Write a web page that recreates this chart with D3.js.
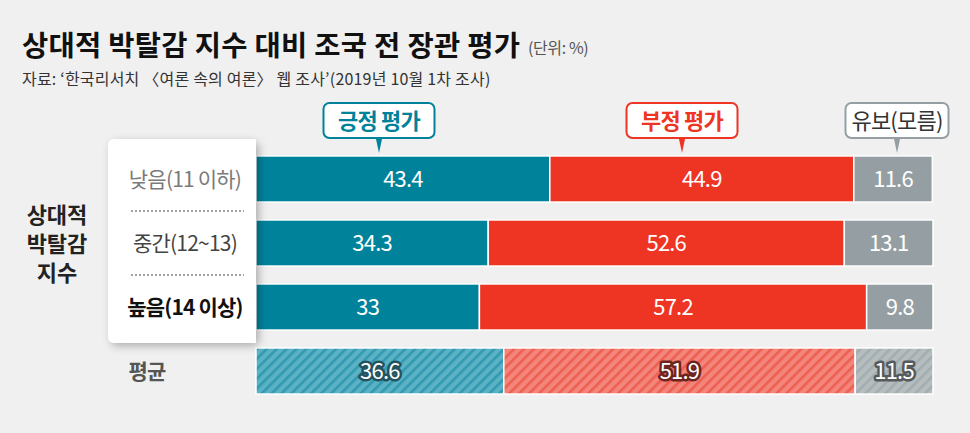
<!DOCTYPE html>
<html>
<head>
<meta charset="utf-8">
<script src="https://cdn.jsdelivr.net/npm/d3@7"></script>
<style>
  html, body { margin: 0; padding: 0; background: #f0f0f0; }
  svg { display: block; font-family: "Noto Sans CJK KR", "Noto Sans", sans-serif; }
</style>
</head>
<body>
<svg id="chart" width="970" height="433"></svg>
<script>
// data
var rowNames = ["낮음(11 이하)", "중간(12~13)", "높음(14 이상)", "평균"];
var seriesNames = ["긍정 평가", "부정 평가", "유보(모름)"];
var positive = [43.4, 34.3, 33, 36.6];
var negative = [44.9, 52.6, 57.2, 51.9];
var undecided = [11.6, 13.1, 9.8, 11.5];

var colors = ["#00829b", "#ee3524", "#959fa3"];
var hatchBg = ["#5cb2c5", "#f4857b", "#b5bdbf"];
var hatchFg = ["#3199b0", "#ec5f51", "#a3acae"];
var outline = ["#23535e", "#6e2520", "#555a5c"];

var svg = d3.select("#chart");

var x = d3.scaleLinear().domain([0, 100]).range([256, 933]);
var y = d3.scaleBand().domain(rowNames).range([147, 403])
    .paddingInner(0.28).paddingOuter(0.14);

// stripe patterns for the average row
var defs = svg.append("defs");
for (var k = 0; k < 3; k++) {
    var pat = defs.append("pattern")
        .attr("id", "hatch" + k)
        .attr("width", 7).attr("height", 7)
        .attr("patternUnits", "userSpaceOnUse")
        .attr("patternTransform", "rotate(45)");
    pat.append("rect").attr("width", 7).attr("height", 7).attr("fill", hatchBg[k]);
    pat.append("rect").attr("width", 2.6).attr("height", 7).attr("fill", hatchFg[k]);
}
var shadow = defs.append("filter").attr("id", "shadow")
    .attr("x", "-20%").attr("y", "-20%").attr("width", "140%").attr("height", "140%");
shadow.append("feDropShadow").attr("dx", 3).attr("dy", 3)
    .attr("stdDeviation", 4).attr("flood-color", "#000").attr("flood-opacity", 0.28);

// title
svg.append("text").attr("x", 22).attr("y", 56)
    .attr("font-size", 28.5).attr("font-weight", "bold").attr("fill", "#111")
    .attr("letter-spacing", 0.3)
    .text("상대적 박탈감 지수 대비 조국 전 장관 평가");
svg.append("text").attr("x", 528).attr("y", 54)
    .attr("font-size", 16).attr("fill", "#555").attr("letter-spacing", -0.4)
    .text("(단위: %)");
svg.append("text").attr("x", 22).attr("y", 85)
    .attr("font-size", 16).attr("fill", "#333").attr("letter-spacing", 0.2)
    .text("자료: ‘한국리서치 〈여론 속의 여론〉 웹 조사’(2019년 10월 1차 조사)");

// stacked bars
var rows = rowNames.map(function (name, i) {
    var vals = [positive[i], negative[i], undecided[i]];
    var acc = 0;
    return vals.map(function (v, j) {
        var seg = {row: name, idx: i, s: j, v: v, x0: acc, x1: acc + v};
        acc += v;
        return seg;
    });
});
var segs = [].concat.apply([], rows);

var bars = svg.append("g").selectAll("g").data(segs).enter().append("g");
bars.append("rect")
    .attr("x", function (d) { return x(d.x0); })
    .attr("y", function (d) { return y(d.row); })
    .attr("width", function (d) { return x(d.x1) - x(d.x0); })
    .attr("height", y.bandwidth())
    .attr("fill", function (d) { return d.idx === 3 ? "url(#hatch" + d.s + ")" : colors[d.s]; })
    .attr("stroke", "#fff").attr("stroke-width", 1.5);

bars.append("text")
    .attr("x", function (d) { return (x(d.x0) + x(d.x1)) / 2; })
    .attr("y", function (d) { return y(d.row) + y.bandwidth() / 2 + 8; })
    .attr("text-anchor", "middle")
    .attr("font-size", 22).attr("letter-spacing", -0.8)
    .attr("fill", "#fff")
    .attr("stroke", function (d) { return d.idx === 3 ? outline[d.s] : "none"; })
    .attr("stroke-width", 5).attr("stroke-linejoin", "round")
    .attr("paint-order", "stroke")
    .text(function (d) { return d.v; });

// white label card
svg.append("rect").attr("x", 108).attr("y", 139).attr("width", 148).attr("height", 204)
    .attr("rx", 6).attr("fill", "#fff").attr("filter", "url(#shadow)");
svg.append("rect").attr("x", 250).attr("y", 139).attr("width", 6).attr("height", 204)
    .attr("fill", "#fff");

var labelFill = ["#7a7a7a", "#444", "#111", "#555"];
var labelWeight = ["normal", "normal", "bold", "bold"];
svg.append("g").selectAll("text").data(rowNames).enter().append("text")
    .attr("x", function (d, i) { return i === 3 ? 147 : 185; })
    .attr("y", function (d) { return y(d) + y.bandwidth() / 2 + 8; })
    .attr("text-anchor", "middle")
    .attr("font-size", 21).attr("letter-spacing", -0.8)
    .attr("font-weight", function (d, i) { return labelWeight[i]; })
    .attr("fill", function (d, i) { return labelFill[i]; })
    .text(function (d) { return d; });

// dotted separators
[0, 1].forEach(function (i) {
    var yy = (y(rowNames[i]) + y.bandwidth() + y(rowNames[i + 1])) / 2;
    svg.append("line").attr("x1", 131).attr("x2", 244).attr("y1", yy).attr("y2", yy)
        .attr("stroke", "#444").attr("stroke-width", 1).attr("stroke-dasharray", "2,2");
});

// axis group name
svg.append("text").attr("x", 57).attr("y", 223).attr("text-anchor", "middle")
    .attr("font-size", 22).attr("font-weight", "bold").attr("fill", "#222")
    .selectAll("tspan").data(["상대적", "박탈감", "지수"]).enter().append("tspan")
    .attr("x", 57).attr("dy", function (d, i) { return i === 0 ? 0 : 29; })
    .text(function (d) { return d; });

// legend callouts
var legendX = [379, 682, 897];
var legendW = [111, 111, 103];
seriesNames.forEach(function (name, i) {
    var g = svg.append("g").attr("transform", "translate(" + legendX[i] + ",0)");
    g.append("rect").attr("x", -legendW[i] / 2).attr("y", 103)
        .attr("width", legendW[i]).attr("height", 35).attr("rx", 6)
        .attr("fill", "#fff").attr("stroke", colors[i]).attr("stroke-width", 2);
    g.append("path").attr("d", "M-3,139 L3,139 L0,153 Z").attr("fill", colors[i]);
    g.append("text").attr("y", 129).attr("text-anchor", "middle")
        .attr("font-size", 22).attr("font-weight", i < 2 ? "bold" : "normal")
        .attr("letter-spacing", -0.8)
        .attr("fill", i < 2 ? colors[i] : "#333").text(name);
});
</script>
</body>
</html>
